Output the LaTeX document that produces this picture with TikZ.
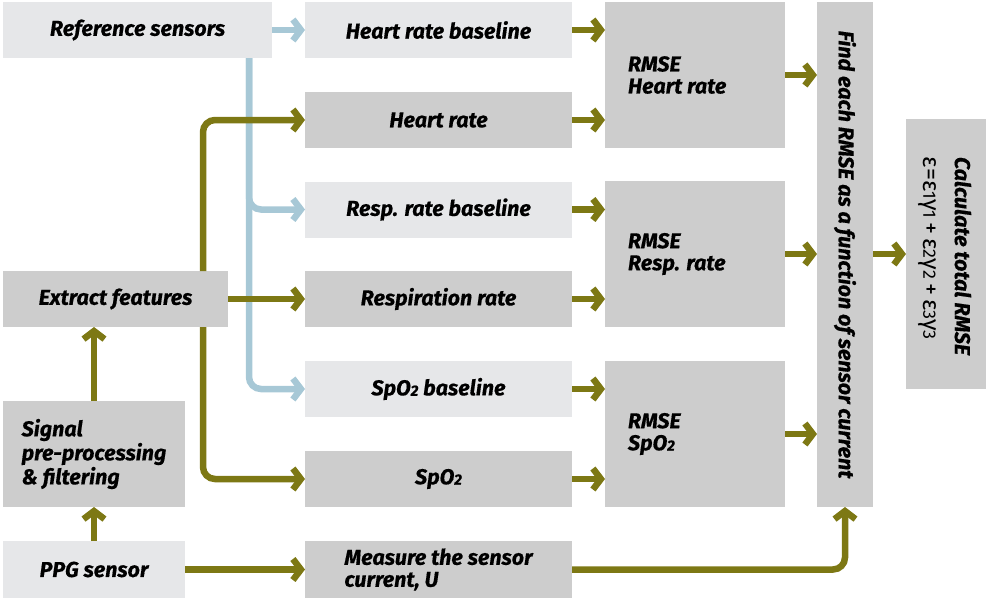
\documentclass[tikz,border=0pt]{standalone}
\usepackage{fontspec}
\setmainfont{Fira Sans}[BoldItalicFeatures={FakeBold=0.5}]
\usetikzlibrary{arrows.meta}

\definecolor{boxlight}{HTML}{E6E7E9}
\definecolor{boxdark}{HTML}{CDCDCD}
\definecolor{olive}{HTML}{7D7814}
\definecolor{skyline}{HTML}{A7C8D6}

% small inferior digit, as in SpO2
\newcommand{\lowdigit}[1]{\raisebox{-0.5pt}{\fontsize{15}{15}\selectfont #1}}
\newcommand{\fdigit}[1]{\raisebox{-0.5pt}{\fontsize{18}{18}\selectfont #1}}

\tikzset{
  x=1pt, y=-1pt,
  boxbase/.style={inner sep=0pt, outer sep=0pt, font=\fontsize{21.5}{22}\selectfont\bfseries\itshape, text=black},
  lightbox/.style={boxbase, fill=boxlight},
  darkbox/.style={boxbase, fill=boxdark},
  flowarrow/.style={line width=6.5pt, draw=olive, -{Straight Barb[length=8pt, width=21pt]}, rounded corners=12pt},
  refarrow/.style={line width=6.5pt, draw=skyline, -{Straight Barb[length=8pt, width=21pt]}, rounded corners=12pt},
}

\begin{document}
\begin{tikzpicture}
\useasboundingbox (0,0) rectangle (987,603);

% ---- left column ----
\node[lightbox, minimum width=269pt, minimum height=56pt] (ref) at (137.5,30) {Reference sensors};
\node[darkbox, minimum width=225pt, minimum height=56pt] (ext) at (115.5,299) {Extract features};
\node[darkbox, minimum width=182pt, minimum height=106pt, align=left,
      font=\fontsize{21.5}{24}\selectfont\bfseries\itshape] (sig) at (94,454)
      {Signal\\pre-processing\\\& filtering};
\node[lightbox, minimum width=182pt, minimum height=57pt] (ppg) at (94,569.5) {PPG sensor};

% ---- measured values and baselines ----
\node[lightbox, minimum width=267pt, minimum height=56pt] (hrb) at (438.5,30) {Heart rate baseline};
\node[darkbox,  minimum width=267pt, minimum height=56pt] (hr)  at (438.5,120) {Heart rate};
\node[lightbox, minimum width=267pt, minimum height=56pt] (rrb) at (438.5,209.5) {Resp. rate baseline};
\node[darkbox,  minimum width=267pt, minimum height=56pt] (rr)  at (438.5,299) {Respiration rate};
\node[lightbox, minimum width=267pt, minimum height=56pt] (sb)  at (438.5,389) {SpO\lowdigit{2} baseline};
\node[darkbox,  minimum width=267pt, minimum height=56pt] (s)   at (438.5,479) {SpO\lowdigit{2}};
\node[darkbox,  minimum width=267pt, minimum height=57pt, align=left] (meas) at (438.5,569.5)
      {Measure the sensor\\current, U};

% ---- error boxes ----
\node[darkbox, minimum width=180pt, minimum height=146pt] (e1) at (695,75) {};
\node[darkbox, minimum width=180pt, minimum height=146pt] (e2) at (695,254) {};
\node[darkbox, minimum width=180pt, minimum height=146pt] (e3) at (695,434) {};
\node[boxbase, anchor=west, align=left] (t1) at (628,75) {RMSE\\Heart rate};
\node[boxbase, anchor=west, align=left] (t2) at (628,254) {RMSE\\Resp. rate};
\node[boxbase, anchor=west, align=left] (t3) at (628,434) {RMSE\\SpO\lowdigit{2}};

\node[darkbox, minimum width=56pt, minimum height=505pt] (find) at (845,254.5) {};
\node[boxbase, rotate=-90] (findtext) at (845,254.5) {Find each RMSE as a function of sensor current};

\node[darkbox, minimum width=80pt, minimum height=270pt] (calc) at (946,254) {};
\node[boxbase, rotate=-90, align=left, font=\fontsize{21.5}{31}\selectfont\bfseries\itshape] (calctext) at (945,256)
  {Calculate total RMSE\\
   {\fontsize{24}{24}\selectfont\mdseries\upshape ε=ε\fdigit{1}γ\fdigit{1}\,+\,ε\fdigit{2}γ\fdigit{2}\,+\,ε\fdigit{3}γ\fdigit{3}}};

% ---- reference connectors ----
\coordinate (bx) at (249,0);
\draw[refarrow] (ref.east) -- (hrb.west);
\draw[refarrow] (ref.south -| bx) |- (sb.west);
\draw[refarrow] (ref.south -| bx) |- (rrb.west);

% ---- feature connectors ----
\coordinate (ox) at (203,0);
\draw[flowarrow] (ext.north -| ox) |- (hr.west);
\draw[flowarrow] (ext.south -| ox) |- (s.west);
\draw[flowarrow] (ext.east) -- (rr.west);
\draw[flowarrow] (ppg.north) -- (sig.south);
\draw[flowarrow] (sig.north) -- (ext.south -| sig.north);
\draw[flowarrow] (ppg.east) -- (meas.west);
\draw[flowarrow] (meas.east) -| (find.south);

% ---- into the error boxes ----
\draw[flowarrow] (hrb.east) -- (hrb.east -| e1.west);
\draw[flowarrow] (hr.east)  -- (hr.east -| e1.west);
\draw[flowarrow] (rrb.east) -- (rrb.east -| e2.west);
\draw[flowarrow] (rr.east)  -- (rr.east -| e2.west);
\draw[flowarrow] (sb.east)  -- (sb.east -| e3.west);
\draw[flowarrow] (s.east)   -- (s.east -| e3.west);

% ---- out to the summary ----
\draw[flowarrow] (e1.east) -- (e1.east -| find.west);
\draw[flowarrow] (e2.east) -- (e2.east -| find.west);
\draw[flowarrow] (e3.east) -- (e3.east -| find.west);
\draw[flowarrow] (calc.west -| find.east) -- (calc.west);
\end{tikzpicture}
\end{document}
